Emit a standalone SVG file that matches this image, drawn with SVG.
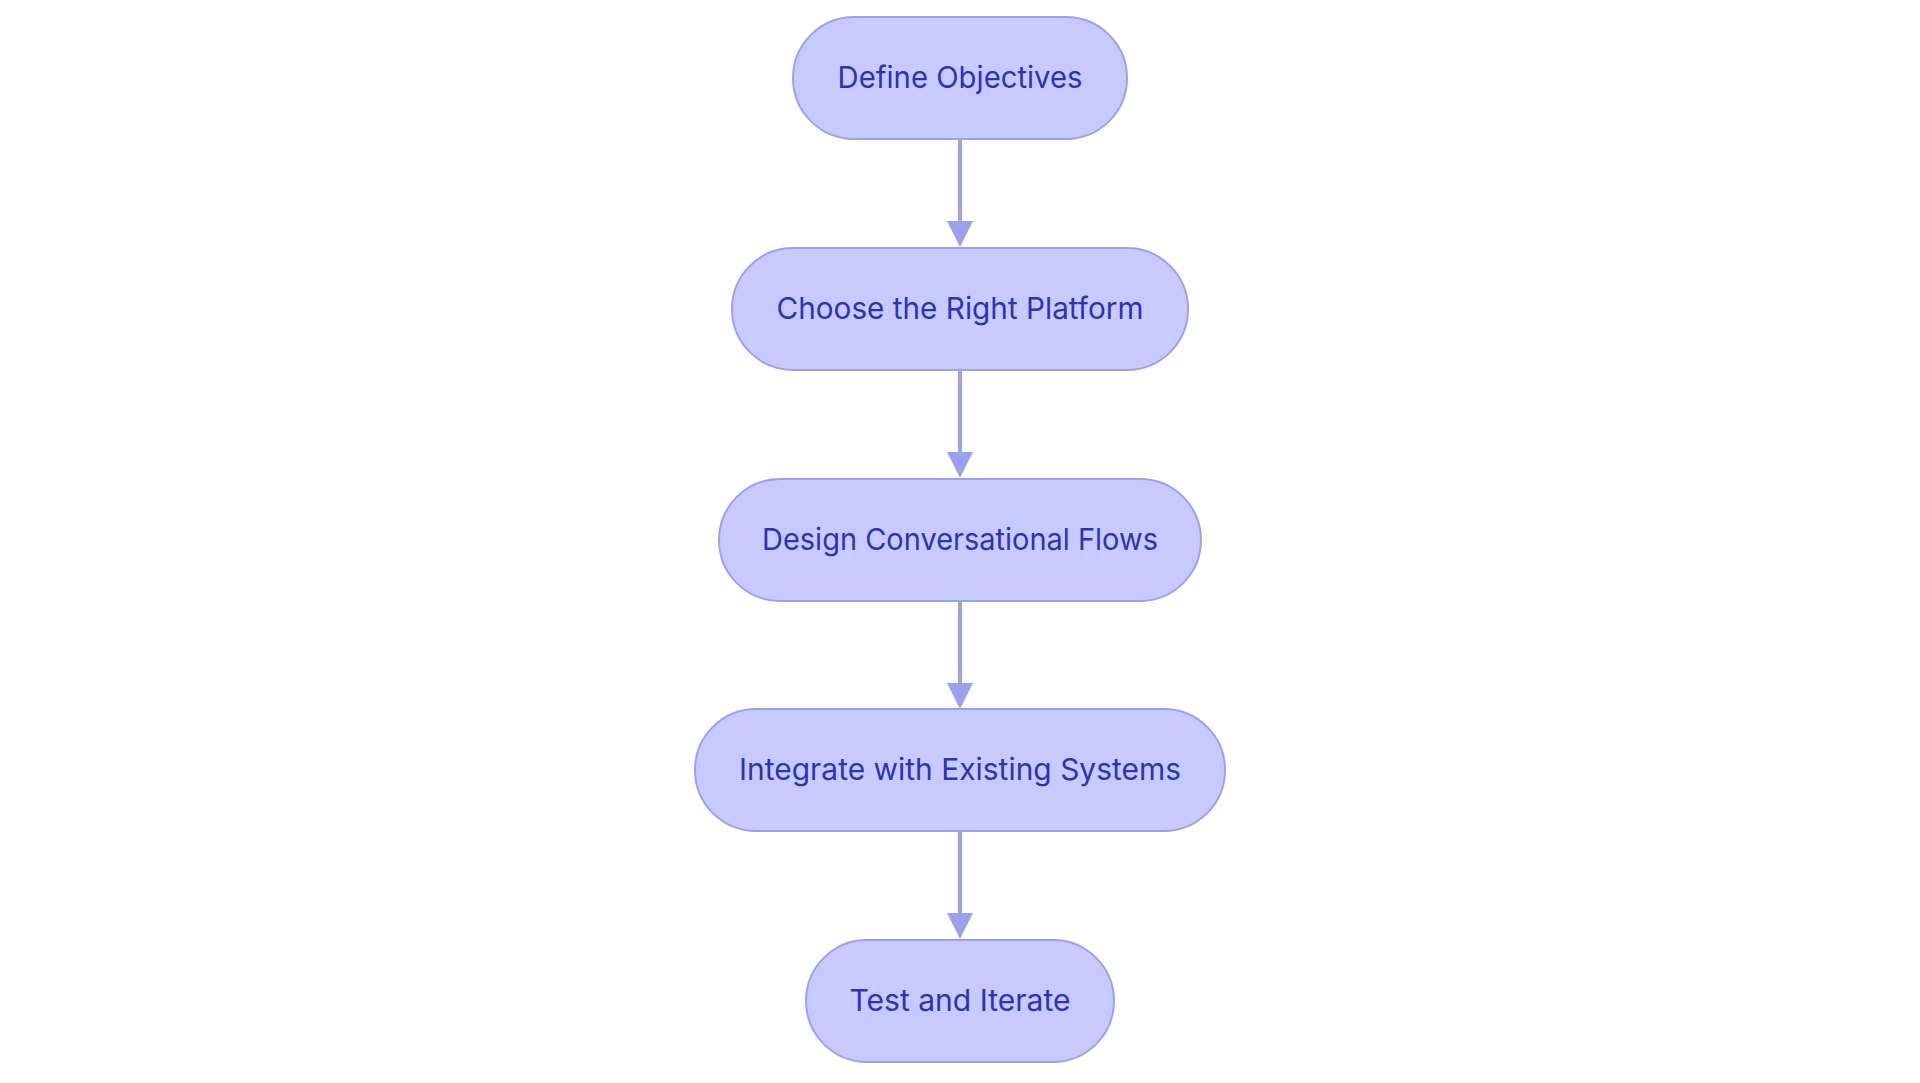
<svg xmlns="http://www.w3.org/2000/svg" width="1920" height="1083" viewBox="0 0 1920 1083">
<style>
.node rect{fill:#c7caff;stroke:#9ca1ec;stroke-width:2}
.node text{font-family:Inter,"Noto Sans",sans-serif;font-size:30px;fill:#2d33b2;text-anchor:middle}
.edge{stroke:#9ca1ec;stroke-width:4;fill:none}
.head{fill:#9ca1ec}
</style>
<rect width="1920" height="1083" fill="#ffffff"/>
<g id="connectors">
<line class="edge" x1="960" y1="139" x2="960" y2="224"/>
<polygon class="head" points="947,221 973,221 960,247"/>
<line class="edge" x1="960" y1="370" x2="960" y2="455"/>
<polygon class="head" points="947,452 973,452 960,478"/>
<line class="edge" x1="960" y1="601" x2="960" y2="686"/>
<polygon class="head" points="947,683 973,683 960,709"/>
<line class="edge" x1="960" y1="831" x2="960" y2="916"/>
<polygon class="head" points="947,913 973,913 960,939"/>
</g>
<g id="n1" class="node"><rect x="793" y="17" width="334" height="122" rx="61"/><text x="960" y="88" textLength="245" lengthAdjust="spacingAndGlyphs">Define Objectives</text></g>
<g id="n2" class="node"><rect x="732" y="248" width="456" height="122" rx="61"/><text x="960" y="319" textLength="367" lengthAdjust="spacingAndGlyphs">Choose the Right Platform</text></g>
<g id="n3" class="node"><rect x="719" y="479" width="482" height="122" rx="61"/><text x="960" y="550" textLength="396" lengthAdjust="spacingAndGlyphs">Design Conversational Flows</text></g>
<g id="n4" class="node"><rect x="695" y="709" width="530" height="122" rx="61"/><text x="960" y="780" textLength="442" lengthAdjust="spacingAndGlyphs">Integrate with Existing Systems</text></g>
<g id="n5" class="node"><rect x="806" y="940" width="308" height="122" rx="61"/><text x="960" y="1011" textLength="221" lengthAdjust="spacingAndGlyphs">Test and Iterate</text></g>
</svg>
